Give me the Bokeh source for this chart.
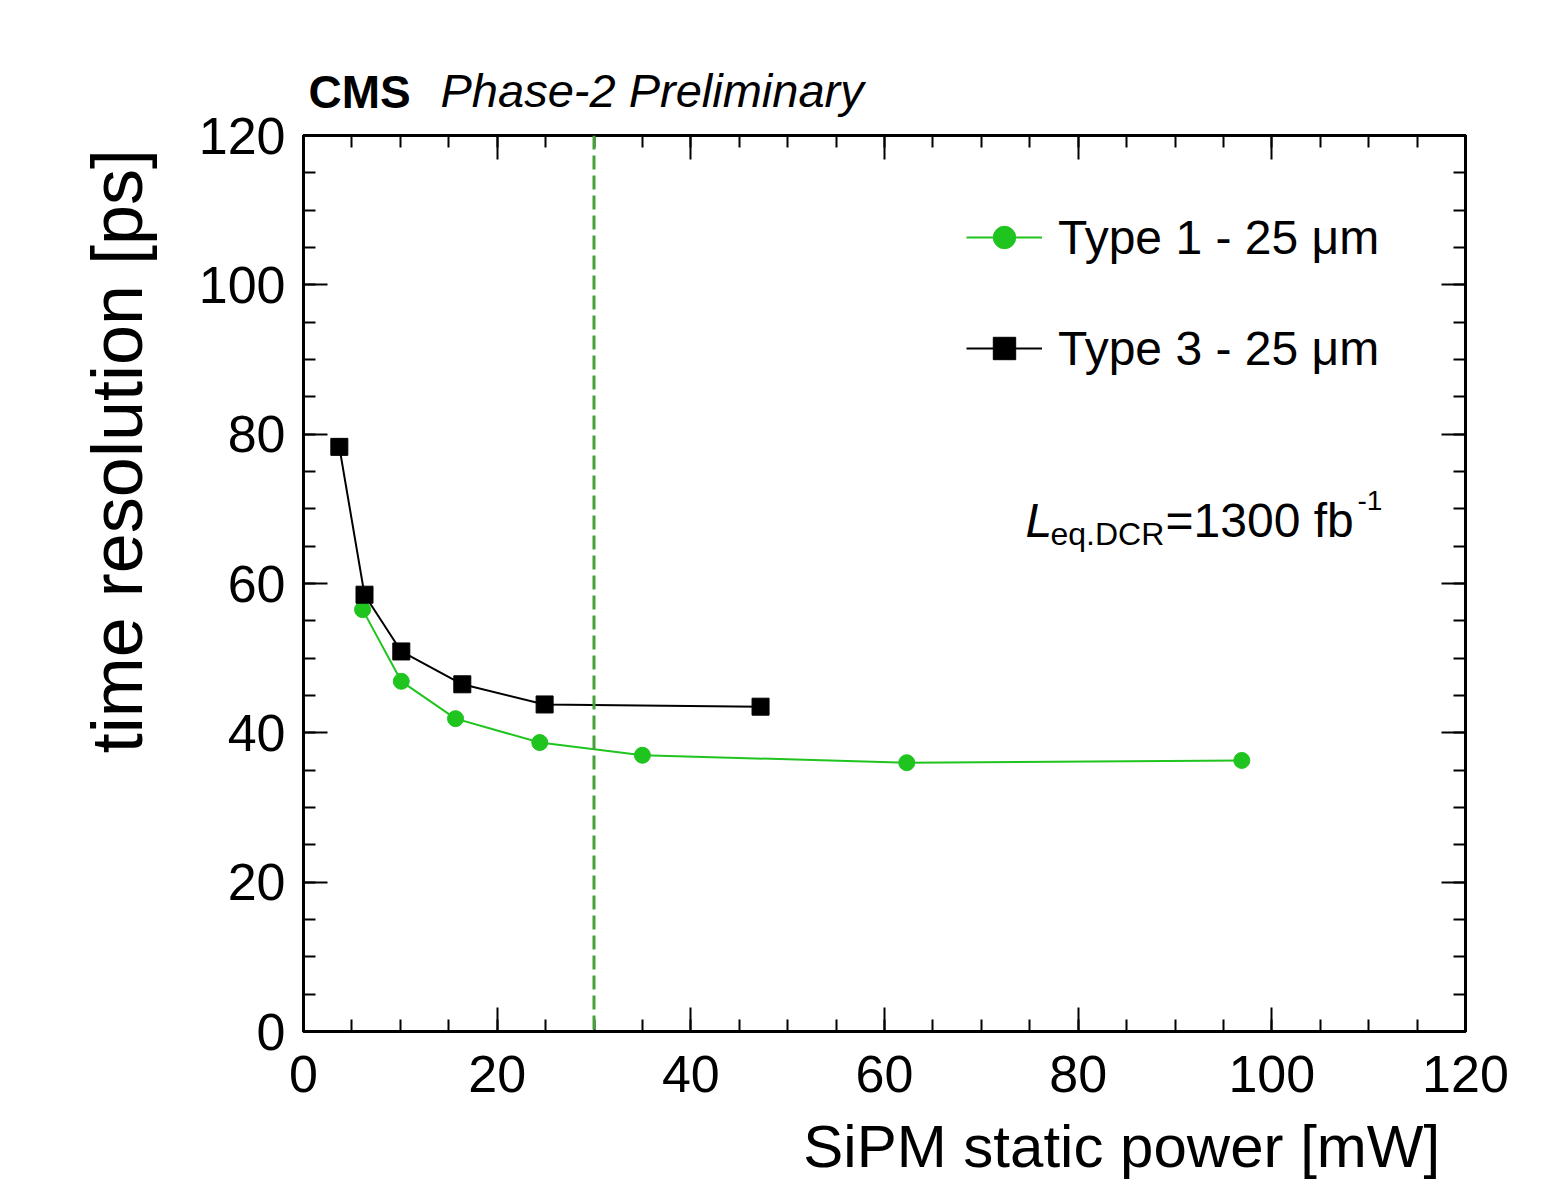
import math
from bokeh.plotting import figure
from bokeh.models import (Range1d, LinearAxis, Span, Label, Legend, LegendItem,
                          FixedTicker)
from bokeh.embed import file_html
from bokeh.resources import INLINE

# ---- data ----
type1_x = [6.1, 10.1, 15.7, 24.4, 35.0, 62.3, 96.9]
type1_y = [56.5, 46.9, 41.9, 38.7, 37.0, 36.0, 36.3]
type3_x = [3.7, 6.3, 10.1, 16.4, 24.9, 47.2]
type3_y = [78.3, 58.5, 50.9, 46.5, 43.8, 43.5]
x_ticks = [0, 20, 40, 60, 80, 100, 120]
y_ticks = [0, 20, 40, 60, 80, 100, 120]
minor_ticks = [v for v in range(0, 121, 5)]
power_limit = 30
series_names = ["Type 1 - 25 \u03bcm", "Type 3 - 25 \u03bcm"]
x_title = "SiPM static power [mW]"
y_title = "time resolution [ps]"
header_bold = "CMS"
header_italic = "Phase-2 Preliminary"

FONT = "Liberation Sans"
GREEN = "#1fc41f"
DASH_GREEN = "#45a23a"

p = figure(width=1549, height=1188, output_backend="svg", toolbar_location=None,
           x_range=Range1d(0, 120), y_range=Range1d(0, 120),
           min_border_left=303, min_border_right=84,
           min_border_top=135, min_border_bottom=157,
           x_axis_location=None, y_axis_location=None)
p.background_fill_color = "white"
p.border_fill_color = "white"
p.outline_line_color = "black"
p.outline_line_width = 3
p.xgrid.visible = False
p.ygrid.visible = False


def make_axis(ticks, show_labels):
    ax = LinearAxis(ticker=FixedTicker(ticks=ticks, minor_ticks=minor_ticks))
    ax.axis_line_color = "black"
    ax.axis_line_width = 3
    ax.major_tick_in = 24
    ax.major_tick_out = 0
    ax.minor_tick_in = 12
    ax.minor_tick_out = 0
    ax.major_tick_line_width = 2
    ax.minor_tick_line_width = 2
    ax.major_tick_line_color = "black"
    ax.minor_tick_line_color = "black"
    ax.major_label_text_font = FONT
    ax.major_label_text_color = "black"
    if show_labels:
        ax.major_label_text_font_size = "52px"
    else:
        ax.major_label_text_font_size = "0px"
        ax.major_label_text_alpha = 0
        ax.major_label_standoff = 0
    return ax


def text_axis(pos, text, size, style, standoff, orientation="horizontal"):
    """A label-only axis used to place a title text outside the frame."""
    ax = LinearAxis(ticker=FixedTicker(ticks=[pos], minor_ticks=[]),
                    major_label_overrides={pos: text})
    ax.axis_line_color = None
    ax.major_tick_line_color = None
    ax.minor_tick_line_color = None
    ax.major_tick_in = 0
    ax.major_tick_out = 0
    ax.minor_tick_in = 0
    ax.minor_tick_out = 0
    ax.major_label_text_font = FONT
    ax.major_label_text_font_size = size
    ax.major_label_text_font_style = style
    ax.major_label_text_color = "black"
    ax.major_label_standoff = standoff
    ax.major_label_orientation = orientation
    return ax


xb = make_axis(x_ticks, True)
xb.major_label_standoff = 24
p.add_layout(xb, "below")
# x title, centred so that it ends near the right of the frame
p.add_layout(text_axis(84.5, x_title, "60px", "normal", 18), "below")

yl = make_axis(y_ticks, True)
yl.major_label_standoff = 18
p.add_layout(yl, "left")
# y title, ending near the top of the frame
p.add_layout(text_axis(118.2, y_title, "72px", "normal", 78, math.pi / 2), "left")

p.add_layout(make_axis(x_ticks, False), "above")
p.add_layout(make_axis(y_ticks, False), "right")

# header texts via label-only axes above the frame
p.add_layout(text_axis(36.0, header_italic, "47px", "italic", 19), "above")
p.add_layout(text_axis(5.8, header_bold, "46px", "bold", -57), "above")

# vertical dashed line
p.add_layout(Span(location=power_limit, dimension="height", line_color=DASH_GREEN,
                  line_width=3, line_dash="14 6"))

# series
l1 = p.line(type1_x, type1_y, line_color=GREEN, line_width=2)
s1 = p.scatter(type1_x, type1_y, marker="circle", size=16, fill_color=GREEN,
               line_color=GREEN)
l3 = p.line(type3_x, type3_y, line_color="black", line_width=2)
s3 = p.scatter(type3_x, type3_y, marker="square", size=17, fill_color="black",
               line_color="black")

legend = Legend(items=[LegendItem(label=series_names[0], renderers=[l1, s1]),
                       LegendItem(label=series_names[1], renderers=[l3, s3])],
                location=(663, 655), orientation="vertical")
legend.glyph_width = 76
legend.glyph_height = 56
legend.label_height = 56
legend.label_standoff = 16
legend.spacing = 55
legend.padding = 0
legend.margin = 0
legend.border_line_color = None
legend.background_fill_alpha = 0
legend.label_text_font = FONT
legend.label_text_font_size = "48px"
legend.label_text_color = "black"
legend.label_text_baseline = "middle"
p.add_layout(legend)


def dx(px):
    return (px - 303) / 9.683


def dy(py):
    return (1031 - py) / 7.467


def lab(text, x, y, size, style="normal", align="left", baseline="alphabetic"):
    p.add_layout(Label(x=x, y=y, text=text, text_font=FONT, text_font_size=size,
                       text_font_style=style, text_align=align,
                       text_baseline=baseline, text_color="black"))


# luminosity annotation
lab("L", dx(1025), dy(520), "48px", style="italic")
lab("eq.DCR", dx(1050), dy(533), "32px")
lab("=1300 fb", dx(1165), dy(520), "48px")
lab("-1", dx(1357), dy(500), "28px")

open("out.html", "w").write(file_html(p, INLINE))
